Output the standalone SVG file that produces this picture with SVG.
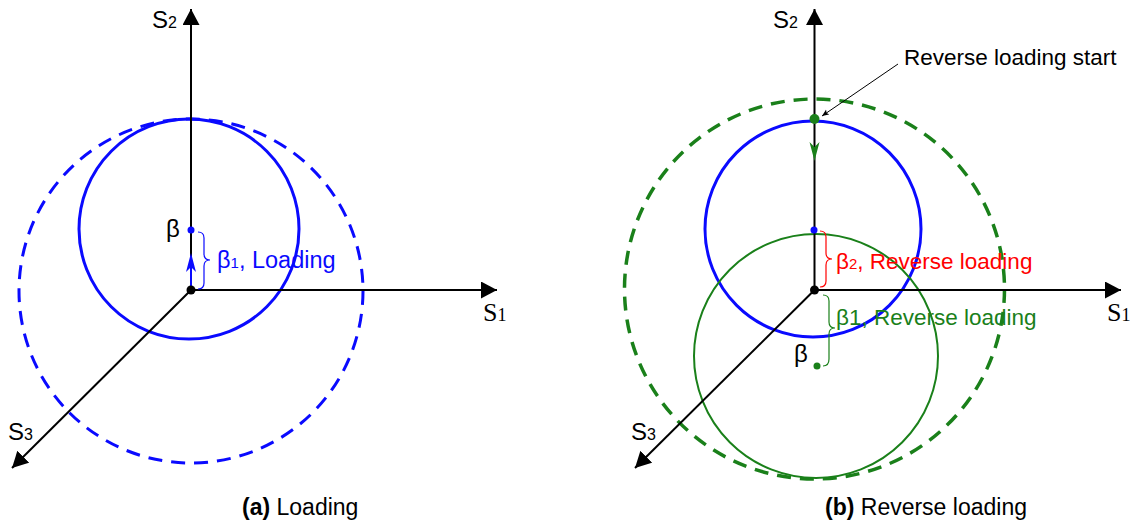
<svg xmlns="http://www.w3.org/2000/svg" width="1135" height="524" viewBox="0 0 1135 524">
<style>
.ax{stroke:#000;stroke-width:2;fill:none}
.sans{font-family:"Liberation Sans",Arial,sans-serif}
.serif{font-family:"Liberation Serif","Times New Roman",serif}
.lbl{font-size:22.5px}
.sub{font-size:15px}
.blue{stroke:#0a0aff;fill:none}
.green{stroke:#1a801a;fill:none}
.brace{stroke-width:1.2;fill:none}
.cap{font-size:23px}
</style>
<defs>
<marker id="ah" markerUnits="userSpaceOnUse" markerWidth="20" markerHeight="20" refX="16" refY="8.5" orient="auto">
<path d="M0,0 L16,8.5 L0,17 Z" fill="#000"/>
</marker>
<marker id="small" markerUnits="userSpaceOnUse" markerWidth="10" markerHeight="10" refX="7" refY="3" orient="auto">
<path d="M0,0 L7,3 L0,6 L1.5,3 Z" fill="#000"/>
</marker>
</defs>

<g id="panel-a">
<g id="a-circles">
<circle cx="191" cy="291" r="172" class="blue" stroke-width="3" stroke-dasharray="14 9"/>
<circle cx="189" cy="229" r="110" class="blue" stroke-width="3"/>
</g>
<g id="a-connectors">
<line class="ax" x1="191" y1="290" x2="191" y2="9" marker-end="url(#ah)"/>
<line class="ax" x1="191" y1="290" x2="497" y2="290" marker-end="url(#ah)"/>
<line class="ax" x1="191" y1="290" x2="12" y2="468" marker-end="url(#ah)"/>
<line x1="191" y1="290" x2="191" y2="258" stroke="#0a0aff" stroke-width="2"/>
<path d="M191,253 L196,272 L191,267 L186,272 Z" fill="#0a0aff"/>
<path class="brace" stroke="#0a0aff" d="M198,232 Q204,232 204,238 L204,254 Q204,260 210,260 Q204,260 204,266 L204,283 Q204,289 198,289"/>
</g>
<g id="a-origin"><circle cx="191" cy="290" r="4.5" fill="#000"/></g>
<g id="a-beta"><circle cx="191" cy="230" r="3.5" fill="#0a0aff"/>
<text x="166" y="237" class="sans" font-size="24" fill="#000">β</text></g>
<g id="a-label"><text x="217" y="268" class="sans" font-size="23.5" fill="#0a0aff">β<tspan class="sub">1</tspan>, Loading</text></g>
<g id="a-axis-labels">
<text x="152" y="28" class="sans" font-size="24" fill="#000">S<tspan font-size="16">2</tspan></text>
<text x="483" y="321" class="serif" font-size="26" fill="#000">S<tspan font-size="18">1</tspan></text>
<text x="8" y="440" class="sans" font-size="24" fill="#000">S<tspan font-size="16">3</tspan></text>
</g>
<g id="a-caption"><text x="242" y="515" class="sans cap" fill="#000"><tspan font-weight="bold">(a)</tspan> Loading</text></g>
</g>

<g id="panel-b">
<g id="b-circles">
<circle cx="814.5" cy="289" r="190" class="green" stroke-width="3.5" stroke-dasharray="14 9"/>
<circle cx="813" cy="229" r="108" class="blue" stroke-width="3"/>
<circle cx="816" cy="356" r="122" class="green" stroke-width="2"/>
</g>
<g id="b-connectors">
<line class="ax" x1="814.5" y1="290" x2="814.5" y2="9" marker-end="url(#ah)"/>
<line class="ax" x1="814.5" y1="290" x2="1121" y2="290" marker-end="url(#ah)"/>
<line class="ax" x1="814.5" y1="290" x2="635" y2="468" marker-end="url(#ah)"/>
<path d="M814.5,161 L819.5,142 L814.5,147 L809.5,142 Z" fill="#1a801a"/>
<line x1="898" y1="64" x2="822" y2="116" stroke="#000" stroke-width="1" marker-end="url(#small)"/>
<path class="brace" stroke="#ff0000" d="M820,231 Q826,231 826,237 L826,253 Q826,259 832,259 Q826,259 826,265 L826,281 Q826,287 820,287"/>
<path class="brace" stroke="#1a801a" d="M823,295 Q829,295 829,301 L829,322 Q829,328 835,328 Q829,328 829,334 L829,359 Q829,366 823,366"/>
</g>
<g id="b-origin"><circle cx="814.5" cy="290" r="4.5" fill="#000"/></g>
<g id="b-start"><circle cx="814.5" cy="119" r="5" fill="#1a801a"/>
<text x="904" y="65" class="sans lbl" fill="#000">Reverse loading start</text></g>
<g id="b-beta2"><circle cx="814" cy="230" r="3.5" fill="#0a0aff"/>
<text x="836" y="269" class="sans lbl" fill="#ff0000">β<tspan class="sub">2</tspan>, Reverse loading</text></g>
<g id="b-beta1"><circle cx="817" cy="366" r="3.5" fill="#1a801a"/>
<text x="794" y="362" class="sans" font-size="24" fill="#000">β</text>
<text x="836" y="325" class="sans lbl" fill="#1a801a">β1, Reverse loading</text></g>
<g id="b-axis-labels">
<text x="773" y="28" class="sans" font-size="24" fill="#000">S<tspan font-size="16">2</tspan></text>
<text x="1107" y="321" class="serif" font-size="26" fill="#000">S<tspan font-size="18">1</tspan></text>
<text x="631" y="440" class="sans" font-size="24" fill="#000">S<tspan font-size="16">3</tspan></text>
</g>
<g id="b-caption"><text x="825" y="515" class="sans cap" fill="#000"><tspan font-weight="bold">(b)</tspan> Reverse loading</text></g>
</g>
</svg>
